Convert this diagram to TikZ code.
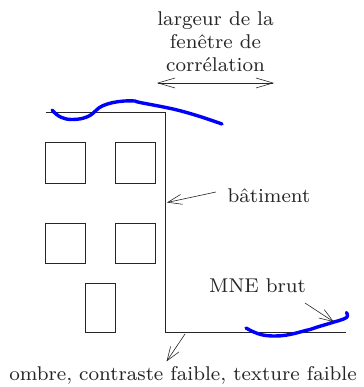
\documentclass[tikz,border=0pt]{standalone}
\usetikzlibrary{arrows.meta}
\tikzset{
  lbl/.style={inner sep=0pt,scale=2.49,font=\fontsize{8}{9.2}\selectfont,text=black!85,align=center},
  wall/.style={draw=black!85,line width=0.75pt},
  win/.style={wall,minimum width=40pt,minimum height=40.5pt,inner sep=0pt,anchor=north west},
  door/.style={wall,minimum width=30pt,minimum height=49pt,inner sep=0pt,anchor=north west},
  arr/.style={draw=black!85,line width=0.6pt,-{Straight Barb[length=14pt,width=10pt,line width=0.6pt]}},
  darr/.style={draw=black!85,line width=0.7pt,{Straight Barb[length=17pt,width=10pt,line width=0.6pt]}-{Straight Barb[length=17pt,width=10pt,line width=0.6pt]}},
  mne/.style={draw=blue,line width=3.4pt,line cap=round,line join=round}
}
\begin{document}
\begin{tikzpicture}[x=1pt,y=-1pt]
\useasboundingbox (0,0) rectangle (363,387);
% texts
\node[lbl] (title) at (215.5,41.5) {largeur de la\\fen\^etre de\\corr\'elation};
\node[lbl,anchor=west] (bat) at (227,195.5) {b\^atiment};
\node[lbl] (brut) at (257.5,286) {MNE brut};
\node[lbl] (ombre) at (183,375.5) {ombre, contraste faible, texture faible};
% width arrow
\coordinate (wl) at (157,83);
\coordinate (wr) at (274,83);
\draw[darr] (wl) -- (wr);
% building
\coordinate (b1) at (45.5,112.5);
\coordinate (b2) at (165.5,112.5);
\coordinate (b3) at (165.5,332.5);
\coordinate (b4) at (345.5,332.5);
\draw[wall] (b1) -- (b2) -- (b3) -- (b4);
\node[win] (w1) at (45,142.5) {};
\node[win] (w2) at (115,142.5) {};
\node[win] (w3) at (45,222.5) {};
\node[win] (w4) at (115,222.5) {};
\node[door] (d1) at (85,283) {};
% blue curves
\draw[mne] (52,110) .. controls (58,117) and (64,119.5) .. (72,119.5)
  .. controls (84,119.5) and (91,116) .. (96,110.5)
  .. controls (102,103) and (122,100) .. (135,101)
  .. controls (137,102.5) and (150,104) .. (173,109)
  .. controls (190,113) and (205,118) .. (222,124);
\draw[mne] (246,328) .. controls (258,335) and (265,336) .. (275,336)
  .. controls (290,336) and (300,331.5) .. (310,329.5)
  .. controls (320,326) and (328,324) .. (334,322)
  .. controls (340,320.5) and (348,318) .. (347.5,316)
  .. controls (347.5,315) and (347,313) .. (346.5,312.5);
% pointers
\coordinate (bs) at (216,192);
\coordinate (bt) at (167,202.5);
\draw[arr] (bs) -- (bt);
\coordinate (ms) at (305,303);
\coordinate (mt) at (334,322);
\draw[arr] (ms) -- (mt);
\coordinate (os) at (185,334);
\coordinate (ot) at (166.5,361.5);
\draw[arr] (os) -- (ot);
\end{tikzpicture}
\end{document}
